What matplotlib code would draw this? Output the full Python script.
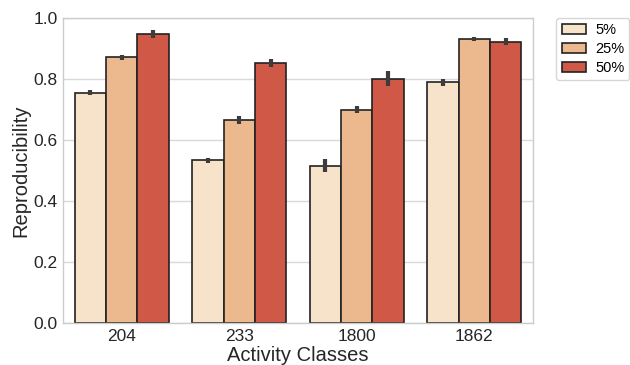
import matplotlib
matplotlib.use("Agg")
import matplotlib.pyplot as plt
import numpy as np

# data
classes = ["204", "233", "1800", "1862"]
series = ["5%", "25%", "50%"]
values_5 = [0.755, 0.533, 0.516, 0.789]
values_25 = [0.871, 0.666, 0.699, 0.930]
values_50 = [0.946, 0.853, 0.801, 0.922]
err_5 = [0.009, 0.008, 0.020, 0.011]
err_25 = [0.008, 0.014, 0.011, 0.006]
err_50 = [0.013, 0.013, 0.025, 0.011]

colors = ["#f6e3c9", "#ecb98e", "#cf5846"]

plt.rcParams['font.family'] = ['Liberation Sans', 'DejaVu Sans']

fig = plt.figure(figsize=(6.3, 3.65), dpi=100)
ax = fig.add_axes([0.1, 0.115, 0.746, 0.836])

x = np.arange(len(classes))
width = 0.8 / 3
all_vals = [values_5, values_25, values_50]
all_errs = [err_5, err_25, err_50]

for i, (vals, errs) in enumerate(zip(all_vals, all_errs)):
    pos = x - 0.4 + width * (i + 0.5)
    ax.bar(pos, vals, width, color=colors[i], edgecolor="#222222",
           linewidth=1.2, label=series[i], zorder=2)
    # error bars as thick vertical lines
    ax.vlines(pos, np.array(vals) - np.array(errs), np.array(vals) + np.array(errs),
              color="#3c3c3c", linewidth=3.0, zorder=3)

ax.set_xlim(-0.5, 3.5)
ax.set_ylim(0, 1.0)
ax.set_xticks(x)
ax.set_xticklabels(classes)
ax.set_yticks(np.arange(0, 1.01, 0.2))
ax.tick_params(axis='both', labelsize=12.5, length=0, pad=4, colors="#262626")
ax.yaxis.grid(True, color="#d9d9d9", linewidth=1.0, zorder=0)
ax.set_axisbelow(True)
for s in ax.spines.values():
    s.set_color("#cccccc")
    s.set_linewidth(1.0)

ax.set_xlabel("Activity Classes", fontsize=14.5, color="#262626", labelpad=2)
ax.set_ylabel("Reproducibility", fontsize=14.5, color="#262626", labelpad=2)

leg = ax.legend(loc="upper left", bbox_to_anchor=(1.05, 1.0), fontsize=10.5,
                frameon=True, handlelength=1.7, handleheight=0.75,
                handletextpad=0.6, borderpad=0.35, borderaxespad=0,
                labelspacing=0.35)
leg.get_frame().set_edgecolor("#cccccc")

fig.savefig("out.png", dpi=100)
